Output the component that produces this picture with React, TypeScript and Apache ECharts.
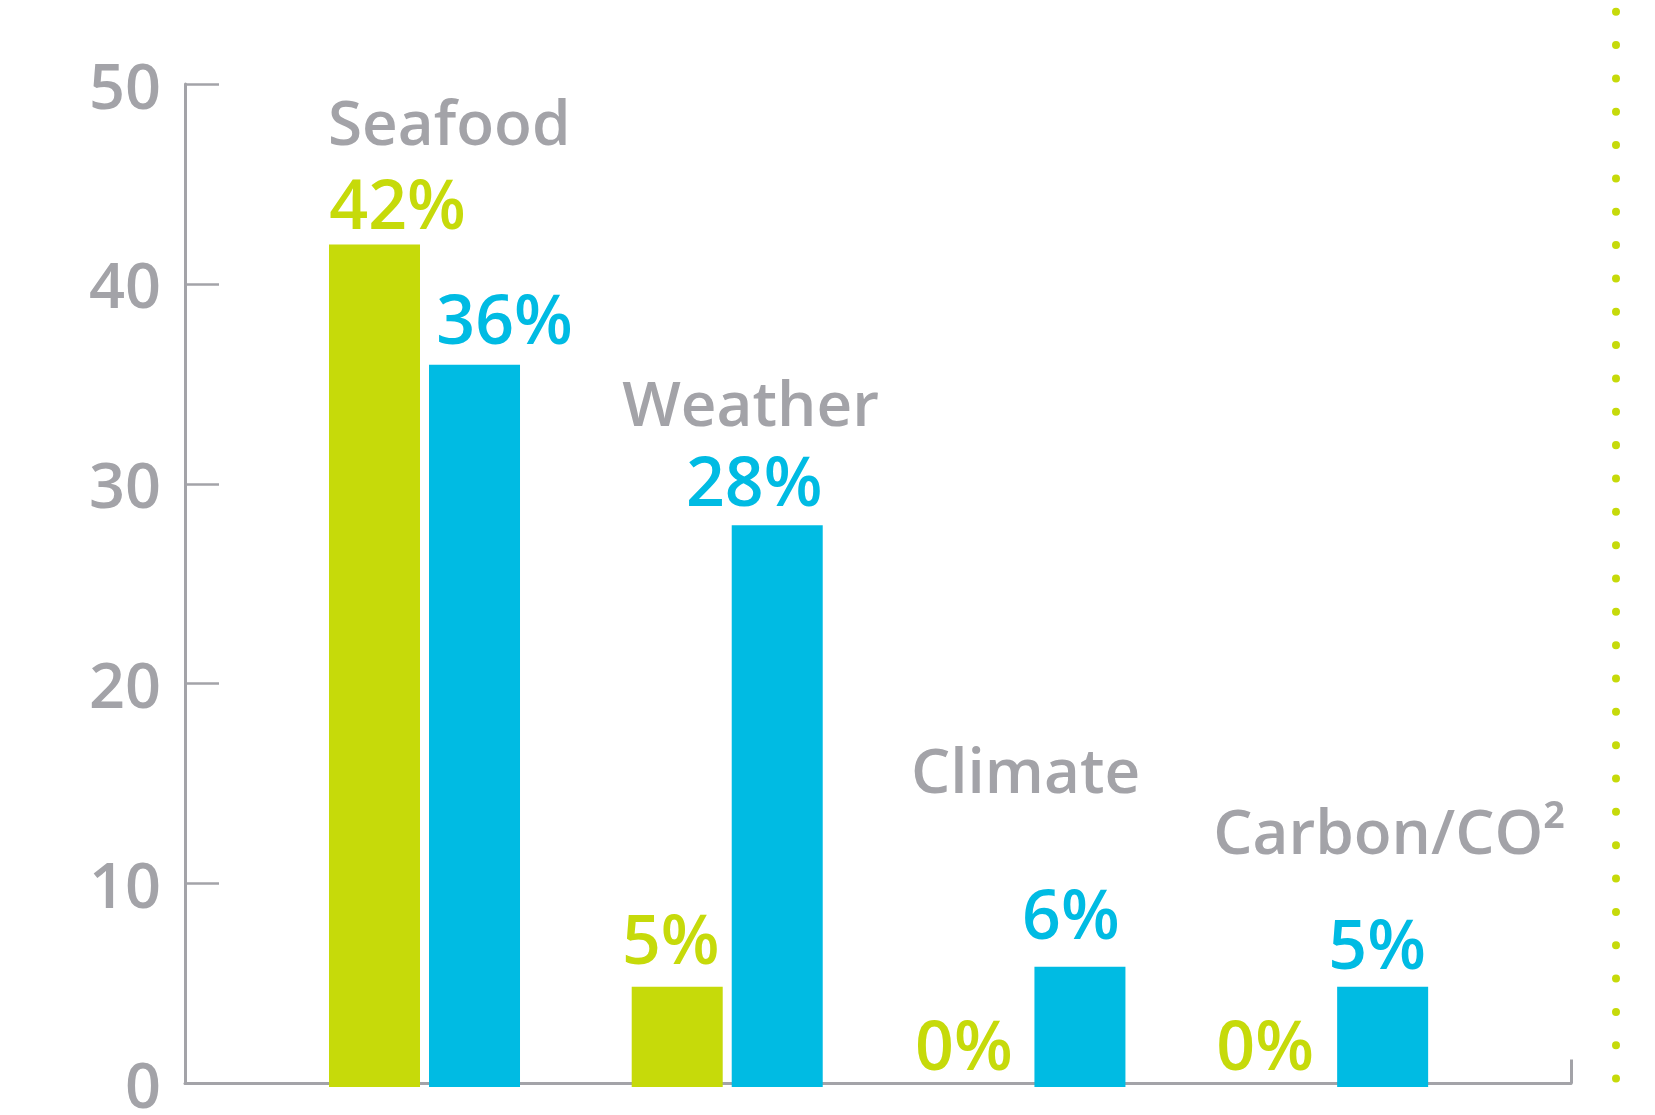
import React, { useEffect, useRef } from "react";
import * as echarts from "echarts";

const categories = ["Seafood", "Weather", "Climate", "Carbon/CO²"];
const greenValues = [42, 5, 0, 0];
const blueValues = [36, 28, 6, 5];
const yTicks = [0, 10, 20, 30, 40, 50];

// label nudges (pixels): [dx, gap from bar top to text baseline]
const greenNudge = [[23, 17], [-6.5, 24], [-16, 18], [-17.5, 18]];
const blueNudge = [[30, 22], [-23, 20], [-9, 29], [-5.5, 19]];
// category name: [dx from group centre to left edge, gap from tallest bar top to baseline]
const catNudge = [[-96.5, 100.5], [-105, 100.3], [-119, 174.6], [-119.5, 133.7]];

const GREEN = "#c6da0a";
const BLUE = "#00bbe3";
const GRAY = "#a3a3a8";
const FONT = "Open Sans";
const PCT_SIZE = 68;
const CAT_SIZE = 62;
const BASE_RATIO = 0.373; // text baseline below line centre, in em

export default function App() {
  const ref = useRef<HTMLDivElement>(null);
  useEffect(() => {
    document.body.style.margin = "0";
    const chart = echarts.init(ref.current!, null, { renderer: "svg" });
    const pctShift = PCT_SIZE / 2 - BASE_RATIO * PCT_SIZE;
    const catShift = CAT_SIZE / 2 - BASE_RATIO * CAT_SIZE;
    const pctItems = (vals: number[], nudge: number[][]) =>
      vals.map((v, i) => ({
        value: v,
        label: { offset: [nudge[i][0], -nudge[i][1] + pctShift] },
      }));
    const leadValues = categories.map((_, i) => Math.max(greenValues[i], blueValues[i]));
    const pctLabel = (color: string) => ({
      show: true,
      position: "top",
      distance: 0,
      formatter: "{c}%",
      color,
      fontFamily: FONT,
      fontWeight: 600,
      fontSize: PCT_SIZE,
      lineHeight: PCT_SIZE,
    });
    const option: any = {
      animation: false,
      backgroundColor: "#ffffff",
      grid: [
        { left: 185, right: 84, top: 84, bottom: 28 },
        { left: 273.15, right: 171, top: 84, bottom: 28 },
      ],
      xAxis: [
        {
          gridIndex: 0,
          type: "value",
          min: 0,
          max: 1,
          interval: 1,
          axisLine: { show: true, lineStyle: { color: GRAY, width: 3 } },
          axisTick: { show: true, inside: true, length: 24, lineStyle: { color: GRAY, width: 3 } },
          axisLabel: { show: false },
          splitLine: { show: false },
        },
        { gridIndex: 1, type: "category", data: categories, show: false },
        { gridIndex: 1, type: "category", data: categories, show: false },
      ],
      yAxis: [
        {
          gridIndex: 0,
          type: "value",
          min: 0,
          max: 50,
          interval: 10,
          axisLine: { show: true, lineStyle: { color: GRAY, width: 3 } },
          axisTick: { show: true, inside: true, length: 34, lineStyle: { color: GRAY, width: 2.5 } },
          axisLabel: {
            margin: 24,
            color: GRAY,
            fontFamily: FONT,
            fontWeight: 600,
            fontSize: 63,
            customValues: yTicks,
          },
          splitLine: { show: false },
        },
        { gridIndex: 1, type: "value", min: 0, max: 50, show: false },
      ],
      series: [
        {
          name: "green",
          type: "bar",
          xAxisIndex: 1,
          yAxisIndex: 1,
          barWidth: 91,
          barGap: "9.9%",
          itemStyle: { color: GREEN },
          label: pctLabel(GREEN),
          data: pctItems(greenValues, greenNudge),
        },
        {
          name: "blue",
          type: "bar",
          xAxisIndex: 1,
          yAxisIndex: 1,
          barWidth: 91,
          barGap: "9.9%",
          itemStyle: { color: BLUE },
          label: pctLabel(BLUE),
          data: pctItems(blueValues, blueNudge),
        },
        {
          name: "category",
          type: "bar",
          xAxisIndex: 2,
          yAxisIndex: 1,
          barWidth: 10,
          silent: true,
          itemStyle: { color: "rgba(0,0,0,0)" },
          label: {
            show: true,
            position: "top",
            distance: 0,
            align: "left",
            formatter: (p: any) => categories[p.dataIndex],
            color: GRAY,
            fontFamily: FONT,
            fontWeight: 600,
            fontSize: CAT_SIZE,
            lineHeight: CAT_SIZE,
          },
          data: leadValues.map((v, i) => ({
            value: v,
            label: { offset: [catNudge[i][0], -catNudge[i][1] + catShift] },
          })),
        },
      ],
      graphic: [
        {
          type: "line",
          shape: { x1: 1616, y1: 11.7, x2: 1616, y2: 1110 },
          style: { stroke: GREEN, lineWidth: 8, lineCap: "round", lineDash: [0.01, 33.33] },
          silent: true,
        },
      ],
    };
    chart.setOption(option);
    return () => chart.dispose();
  }, []);
  return (
    <div
      ref={ref}
      style={{ position: "absolute", left: 0, top: 0, width: 1655, height: 1115 }}
    />
  );
}
